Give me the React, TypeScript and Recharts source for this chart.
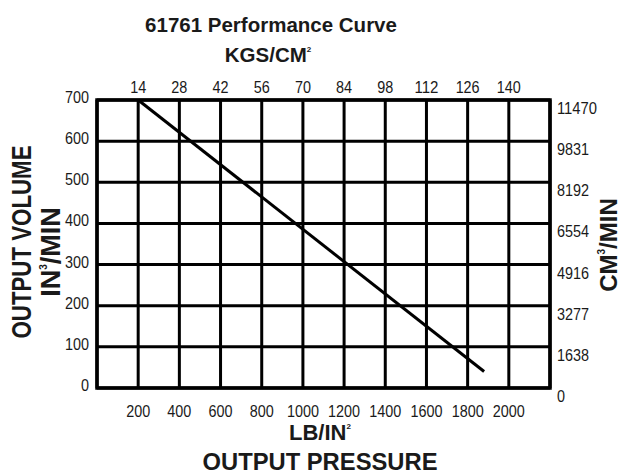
import React from 'react'
import { LineChart, Line, XAxis, YAxis, CartesianGrid, ReferenceArea } from 'recharts'

// pump 61761: output volume vs output pressure
const curve = [
  { psi: 200, volume: 700 },
  { psi: 1880, volume: 40 },
]

const psiTicks = [200, 400, 600, 800, 1000, 1200, 1400, 1600, 1800, 2000]
const kgTicks = [14, 28, 42, 56, 70, 84, 98, 112, 126, 140]
const volumeTicks = [0, 100, 200, 300, 400, 500, 600, 700]
const cm3Ticks = [0, 1638, 3277, 4916, 6554, 8192, 9831, 11470]

const W = 624
const H = 474
const INK = '#1a1a1a'
const tickFont = '"Liberation Sans", Arial, sans-serif'
const boldFont = '"Liberation Sans", Arial, Helvetica, sans-serif'

// secondary scales share the primary grid, so their labels are looked up by position
const kgLabel = (v: number) => String(kgTicks[psiTicks.indexOf(v)] ?? '')
const cm3Label = (v: number) => String(cm3Ticks[volumeTicks.indexOf(v)] ?? '')

const makeTick = (dx: number, dy: number, anchor: 'start' | 'middle' | 'end', fmt?: (v: number) => string) =>
  (props: any) => {
    const { x, y, payload } = props
    const label = fmt ? fmt(payload.value) : String(payload.value)
    return (
      <text
        x={x + dx} y={y + dy} textAnchor={anchor} fill={INK} fontSize={16}
        fontFamily={tickFont} textLength={label.length * 8} lengthAdjust="spacingAndGlyphs"
      >
        {label}
      </text>
    )
  }

function Titles() {
  return (
    <svg width={W} height={H} style={{ position: 'absolute', left: 0, top: 0, pointerEvents: 'none' }}>
      <g fill={INK} fontFamily={boldFont} fontWeight="bold">
        <text x={271} y={32} textAnchor="middle" fontSize={20.5}>61761 Performance Curve</text>
        <text x={268} y={62} textAnchor="middle" fontSize={20.5}>
          KGS/CM<tspan fontSize={8} dy={-10}>2</tspan>
        </text>
        <text x={320} y={440} textAnchor="middle" fontSize={22}>
          LB/IN<tspan fontSize={8} dy={-11}>2</tspan>
        </text>
        <text x={320} y={470} textAnchor="middle" fontSize={23} textLength={235} lengthAdjust="spacingAndGlyphs">
          OUTPUT PRESSURE
        </text>
        <text transform="translate(31 242) rotate(-90)" textAnchor="middle" fontSize={27} textLength={193} lengthAdjust="spacingAndGlyphs">
          OUTPUT VOLUME
        </text>
        <text transform="translate(60 252) rotate(-90)" textAnchor="middle" fontSize={27}>
          IN<tspan fontSize={10} dy={-13}>3</tspan><tspan dy={13}>/MIN</tspan>
        </text>
        <text transform="translate(617 245) rotate(-90)" textAnchor="middle" fontSize={24}>
          CM<tspan fontSize={10} dy={-12}>3</tspan><tspan dy={12}>/MIN</tspan>
        </text>
      </g>
    </svg>
  )
}

export default function App() {
  return (
    <div style={{ position: 'absolute', left: 0, top: 0, width: W, height: H, background: '#fff' }}>
      <LineChart width={W} height={H} data={curve} margin={{ top: 70, right: 14, bottom: 56, left: 37 }}>
        <CartesianGrid xAxisId="psi" yAxisId="vol" stroke="#000" strokeWidth={3} />
        <XAxis
          xAxisId="psi" dataKey="psi" type="number" domain={[0, 2200]} ticks={psiTicks}
          height={30} axisLine={false} tickLine={false} tickSize={0} tickMargin={0}
          tick={makeTick(0, 29, 'middle')} interval={0}
        />
        <XAxis
          xAxisId="kg" dataKey="psi" orientation="top" type="number" domain={[0, 2200]} ticks={psiTicks}
          height={30} axisLine={false} tickLine={false} tickSize={0} tickMargin={0}
          tick={makeTick(0, -7, 'middle', kgLabel)} interval={0}
        />
        <YAxis
          yAxisId="vol" type="number" domain={[0, 700]} ticks={volumeTicks}
          width={60} axisLine={false} tickLine={false} tickSize={0} tickMargin={0}
          tick={makeTick(-8, 3, 'end')} interval={0}
        />
        <YAxis
          yAxisId="cm3" dataKey="volume" orientation="right" type="number" domain={[0, 700]} ticks={volumeTicks}
          width={60} axisLine={false} tickLine={false} tickSize={0} tickMargin={0}
          tick={makeTick(7, 14, 'start', cm3Label)} interval={0}
        />
        <ReferenceArea
          xAxisId="psi" yAxisId="vol" x1={0} x2={2200} y1={0} y2={700}
          fill="none" fillOpacity={0} stroke="#000" strokeWidth={3.5}
        />
        <Line
          xAxisId="psi" yAxisId="vol" dataKey="volume" type="linear"
          stroke="#000" strokeWidth={3} dot={false} isAnimationActive={false}
        />
      </LineChart>
      <Titles />
    </div>
  )
}
